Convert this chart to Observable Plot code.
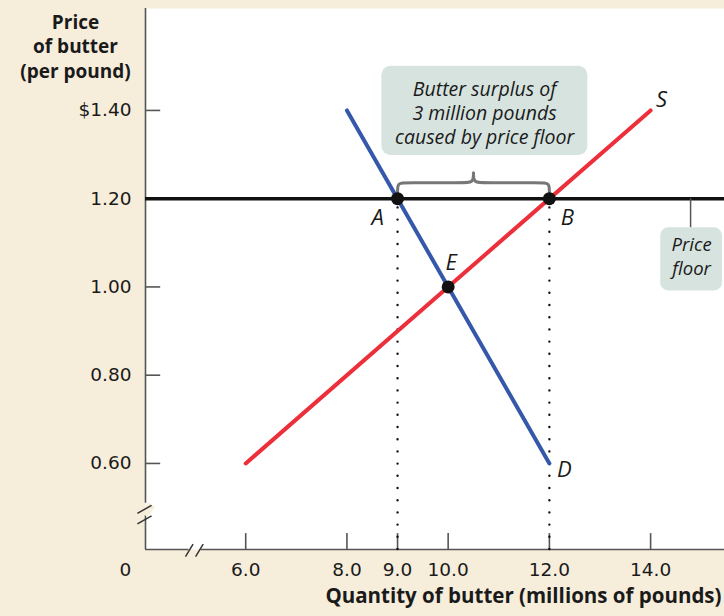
<!DOCTYPE html>
<html>
<head>
<meta charset="utf-8">
<script src="https://cdn.jsdelivr.net/npm/d3@7"></script>
<script src="https://cdn.jsdelivr.net/npm/@observablehq/plot@0.6"></script>
<style>
  html, body { margin: 0; padding: 0; background: #f6eddb; }
  #chart svg { display: block; }
</style>
</head>
<body>
<div id="chart"></div>
<script>
// ---- data ----
const qTicks = [6, 8, 9, 10, 12, 14];
const pTicks = [0.6, 0.8, 1.0, 1.2, 1.4];
const supplyQ = [6, 14];
const supplyP = [0.6, 1.4];
const demandQ = [8, 12];
const demandP = [1.4, 0.6];
const priceFloor = 1.2;
const pointLabels = ["A", "B", "E"];
const pointQ = [9, 12, 10];
const pointP = [1.2, 1.2, 1.0];
const surplusText = "Butter surplus of\n3 million pounds\ncaused by price floor";
const floorText = "Price\nfloor";
const yTitle = "Price\nof butter\n(per pound)";
const xTitle = "Quantity of butter (millions of pounds)";

// ---- layout ----
const xDomain = [4.02, 15.46];
const yDomain = [0.405, 1.631];
const xMin = xDomain[0], yMin = yDomain[0];
const font = "'Open Sans', 'DejaVu Sans', sans-serif";
const numFont = "'DejaVu Sans', sans-serif";
const beige = "#f6eddb";
const axisColor = "#555";
const ink = "#1a1a1a";

const supply = supplyQ.map((q, i) => ({q, p: supplyP[i]}));
const demand = demandQ.map((q, i) => ({q, p: demandP[i]}));
const pts = pointLabels.map((l, i) => ({label: l, q: pointQ[i], p: pointP[i]}));
const A = pts[0], B = pts[1];
const mid = (A.q + B.q) / 2;

// label offsets (pixels) for point labels
const labelOffset = {A: [-20, 19], B: [18, 19], E: [3, -24]};

// brace (two halves)
const braceLo = priceFloor + 0.014, braceHi = priceFloor + 0.036, braceTip = priceFloor + 0.058;
const brace = [
  [A.q, braceLo], [A.q, braceHi], [A.q + 0.15, braceHi], [mid - 0.2, braceHi], [mid, braceHi], [mid, braceTip]
].map(([q, p]) => ({q, p, z: 0})).concat(
  [[B.q, braceLo], [B.q, braceHi], [B.q - 0.15, braceHi], [mid + 0.2, braceHi], [mid, braceHi], [mid, braceTip]]
  .map(([q, p]) => ({q, p, z: 1})));

// axis breaks
const yBreak = 0.505, xBreak = 5.0;

const labelMarks = pts.map(d => Plot.text([d], {
  x: "q", y: "p", text: "label",
  dx: labelOffset[d.label][0], dy: labelOffset[d.label][1],
  fontSize: 22, fontStyle: "italic", fill: ink
}));

const chart = Plot.plot({
  width: 724,
  height: 616,
  marginLeft: 145,
  marginTop: 8,
  marginRight: 0,
  marginBottom: 67,
  style: {background: "transparent", fontFamily: font},
  x: {domain: xDomain, axis: null},
  y: {domain: yDomain, axis: null},
  marks: [
    Plot.frame({fill: "white", stroke: null}),
    // axes lines with breaks
    Plot.ruleX([xMin], {y1: yMin, y2: yBreak - 0.022, stroke: axisColor, strokeWidth: 1.6}),
    Plot.ruleX([xMin], {y1: yBreak + 0.005, y2: yDomain[1], stroke: axisColor, strokeWidth: 1.6}),
    Plot.ruleY([yMin], {x1: xMin, x2: xBreak - 0.12, stroke: axisColor, strokeWidth: 1.6}),
    Plot.ruleY([yMin], {x1: xBreak + 0.12, x2: xDomain[1], stroke: axisColor, strokeWidth: 1.6}),
    // break gap fill
    Plot.link([0], {x1: xMin - 0.02, y1: yBreak - 0.022, x2: xMin + 0.12, y2: yBreak + 0.002, stroke: beige, strokeWidth: 8}),
    // break slashes
    Plot.link([-0.012, 0.012], {x1: xMin - 0.16, y1: d => yBreak + d - 0.03, x2: xMin + 0.12, y2: d => yBreak + d - 0.012, stroke: "#333", strokeWidth: 1.5}),
    Plot.link([-0.1, 0.1], {x1: d => xBreak + d - 0.09, y1: yMin - 0.016, x2: d => xBreak + d + 0.06, y2: yMin + 0.012, stroke: "#333", strokeWidth: 1.5}),
    // ticks
    Plot.ruleY(pTicks, {x1: xMin, x2: xMin + 0.3, stroke: axisColor, strokeWidth: 1.6}),
    Plot.ruleX(qTicks, {y1: yMin, y2: yMin + 0.036, stroke: axisColor, strokeWidth: 1.6}),
    // tick labels
    Plot.text(pTicks, {x: xMin, y: d => d, text: d => (d === 1.4 ? "$" : "") + d.toFixed(2), textAnchor: "end", dx: -14, fontSize: 18.5, fontFamily: numFont, fill: ink}),
    Plot.text(qTicks, {x: d => d, y: yMin, text: d => d.toFixed(1), dy: 21, fontSize: 18.5, fontFamily: numFont, fill: ink}),
    Plot.text(["0"], {x: xMin, y: yMin, text: d => d, dx: -20, dy: 21, fontSize: 18.5, fontFamily: numFont, fill: ink}),
    // axis titles
    Plot.text([yTitle], {frameAnchor: "top-left", text: d => d, dx: -70, dy: 37, textAnchor: "middle", lineAnchor: "middle", lineHeight: 1.3, fontSize: 19, letterSpacing: 0.7, fontWeight: "bold", fill: ink}),
    Plot.text([xTitle], {frameAnchor: "bottom-right", text: d => d, dx: -3, dy: 53, textAnchor: "end", fontSize: 20.5, fontWeight: "bold", letterSpacing: 0.6, fill: ink}),
    // dotted verticals
    Plot.ruleX([A, B], {x: "q", y1: yMin, y2: "p", stroke: "#111", strokeWidth: 2.4, strokeDasharray: "0 12.2", strokeLinecap: "round"}),
    // price floor
    Plot.ruleY([priceFloor], {stroke: "#111", strokeWidth: 3.5}),
    // brace
    Plot.line(brace, {x: "q", y: "p", z: "z", curve: "basis", stroke: "#777", strokeWidth: 3}),
    // curves
    Plot.line(supply, {x: "q", y: "p", stroke: "#ec2f3b", strokeWidth: 4}),
    Plot.line(demand, {x: "q", y: "p", stroke: "#3558aa", strokeWidth: 4}),
    // points
    Plot.dot(pts, {x: "q", y: "p", r: 6.5, fill: "#111"}),
    ...labelMarks,
    Plot.text([supply[1]], {x: "q", y: "p", text: () => "S", dx: 11, dy: -10, fontSize: 22, fontStyle: "italic", fill: ink}),
    Plot.text([demand[1]], {x: "q", y: "p", text: () => "D", dx: 15, dy: 7, fontSize: 22, fontStyle: "italic", fill: ink}),
    // surplus annotation box
    Plot.rect([0], {x1: 8.69, x2: 12.76, y1: 1.298, y2: 1.50, fill: "#d6e3df", rx: 9}),
    Plot.text([surplusText], {x: 10.72, y: 1.396, text: d => d, lineHeight: 1.25, fontSize: 19.5, fontStyle: "italic", fill: ink}),
    // price floor annotation
    Plot.ruleX([14.79], {y1: priceFloor, y2: 1.134, stroke: "#555", strokeWidth: 1.5}),
    Plot.rect([0], {x1: 14.2, x2: 15.42, y1: 0.991, y2: 1.134, fill: "#d6e3df", rx: 8}),
    Plot.text([floorText], {x: 14.81, y: 1.072, text: d => d, lineHeight: 1.3, fontSize: 18.5, letterSpacing: 0.5, fontStyle: "italic", fill: ink})
  ]
});
document.getElementById("chart").append(chart);
</script>
</body>
</html>
